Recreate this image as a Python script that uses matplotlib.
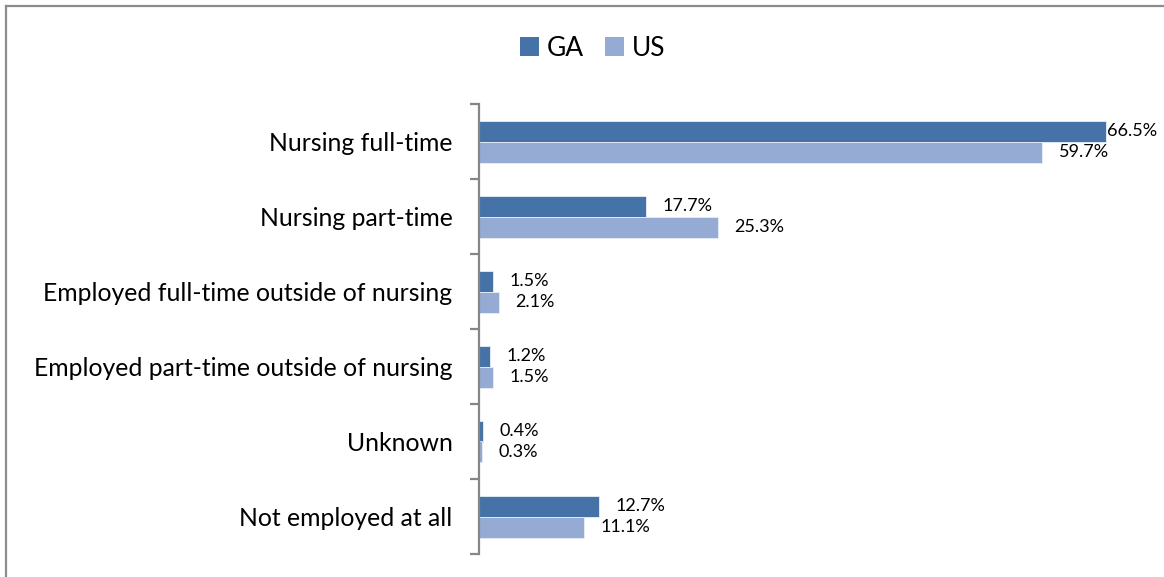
import matplotlib
matplotlib.use("Agg")
import matplotlib.pyplot as plt
from matplotlib.patches import Patch
from matplotlib.lines import Line2D

categories = ["Nursing full-time", "Nursing part-time",
              "Employed full-time outside of nursing",
              "Employed part-time outside of nursing",
              "Unknown", "Not employed at all"]
ga_values = [66.5, 17.7, 1.5, 1.2, 0.4, 12.7]
us_values = [59.7, 25.3, 2.1, 1.5, 0.3, 11.1]
series_names = ["GA", "US"]

GA_COLOR = "#4573A7"
US_COLOR = "#95ABD3"
FONT = "Lato"

plt.rcParams["font.family"] = [FONT, "DejaVu Sans"]

W, H = 1164, 577
fig = plt.figure(figsize=(W / 100, H / 100), dpi=100)
ax = fig.add_axes([479 / W, 1 - 554 / H, (1139 - 479) / W, (554 - 104) / H])

n = len(categories)
ys = list(range(n))
bh = 0.28
ga_y = [y - bh / 2 for y in ys]
us_y = [y + bh / 2 for y in ys]
ax.barh(ga_y, ga_values, height=bh, color=GA_COLOR, edgecolor="#E8EEF6", linewidth=0.6)
ax.barh(us_y, us_values, height=bh, color=US_COLOR, edgecolor="#E8EEF6", linewidth=0.6)

ax.set_xlim(0, 70)
ax.set_ylim(n - 0.5, -0.5)

for s in ["top", "right", "bottom"]:
    ax.spines[s].set_visible(False)
ax.spines["left"].set_color("#868686")
ax.spines["left"].set_linewidth(1.6)
ax.set_xticks([])

ax.set_yticks([i - 0.5 for i in range(n + 1)])
ax.set_yticklabels([])
ax.tick_params(axis="y", which="major", length=6.5, width=1.6, color="#868686")
ax.set_yticks(ys, minor=True)
ax.set_yticklabels(categories, minor=True, fontsize=17.8, color="black")
ax.tick_params(axis="y", which="minor", length=0, pad=19)

labels = []
for yv, v in zip(ga_y, ga_values):
    labels.append(ax.annotate(f"{v:.1f}%", xy=(v, yv), xytext=(12, 0),
                              textcoords="offset points", va="center", ha="left",
                              fontsize=13, color="black"))
for yv, v in zip(us_y, us_values):
    labels.append(ax.annotate(f"{v:.1f}%", xy=(v, yv), xytext=(12, 0),
                              textcoords="offset points", va="center", ha="left",
                              fontsize=13, color="black"))

# keep labels inside the chart area like the original
fig.canvas.draw()
r = fig.canvas.get_renderer()
limit = W - 7
for t in labels:
    bb = t.get_window_extent(r)
    if bb.x1 > limit:
        t.set_position((max(1, 12 - (bb.x1 - limit) * 72 / 100), 0))

handles = [Patch(facecolor=GA_COLOR, edgecolor="none"),
           Patch(facecolor=US_COLOR, edgecolor="none")]
fig.legend(handles, series_names, loc="center", bbox_to_anchor=(593 / W, 1 - 48 / H),
           ncol=2, frameon=False, fontsize=19, handlelength=0.72, handleheight=0.72,
           handletextpad=0.3, columnspacing=0.8, borderpad=0)

# chart-area border (top and left as visible in the original)
fig.add_artist(Line2D([5.5 / W, 1], [1 - 5.5 / H, 1 - 5.5 / H], color="#8C8C8C", lw=1.6,
                      transform=fig.transFigure))
fig.add_artist(Line2D([5.5 / W, 5.5 / W], [0, 1 - 5.5 / H], color="#8C8C8C", lw=1.6,
                      transform=fig.transFigure))

fig.savefig("out.png", dpi=100)
